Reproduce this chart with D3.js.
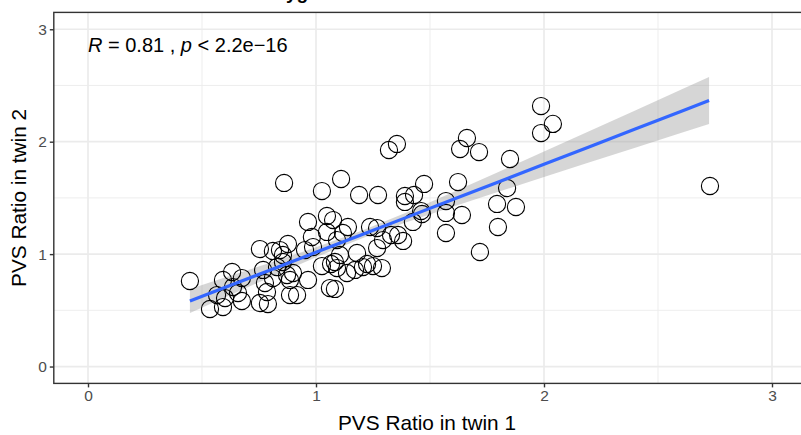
<!DOCTYPE html>
<html><head><meta charset="utf-8">
<script src="https://cdn.jsdelivr.net/npm/d3@7"></script>
<style>
html,body{margin:0;padding:0;background:#fff;overflow:hidden;}
text{font-family:"Liberation Sans",Arial,Helvetica,sans-serif;}
</style></head>
<body><svg id="c" width="801" height="435"></svg>
<script>
// ---- data ----
const twin1 = [0.447,0.535,0.592,0.601,0.566,0.592,0.632,0.658,0.675,0.675,0.636,0.754,0.789,0.768,0.776,0.785,0.811,0.829,0.855,0.886,0.899,0.917,0.886,0.965,1.026,1.061,0.754,0.811,0.842,0.877,0.855,0.952,0.987,0.860,0.965,0.982,1.048,1.026,1.110,1.189,1.272,1.075,1.140,1.048,1.118,1.237,1.268,1.294,1.329,1.360,1.382,1.105,1.180,1.268,1.083,1.092,1.136,1.171,1.224,1.250,1.289,1.083,1.092,1.206,1.066,1.320,1.355,1.390,1.430,1.390,1.474,1.461,1.465,1.425,1.570,1.570,1.640,1.570,1.719,1.623,1.662,1.632,1.715,1.851,1.838,1.794,1.877,1.798,1.987,1.987,2.039,2.728,0.873];
const twin2 = [0.761,0.512,0.529,0.609,0.636,0.770,0.841,0.654,0.583,0.787,0.707,0.565,0.556,0.859,0.743,0.663,0.787,0.885,0.930,0.770,0.832,0.636,0.636,0.770,0.894,0.698,1.045,1.028,1.036,1.090,0.992,1.036,1.063,1.633,1.286,1.152,1.339,1.561,1.668,1.526,1.526,1.303,1.241,1.197,1.188,1.241,1.232,1.125,1.170,1.170,1.117,0.992,1.010,1.054,0.930,0.876,0.832,0.859,0.912,0.894,0.876,0.690,1.125,0.885,0.912,1.926,1.980,1.517,1.526,1.464,1.624,1.383,1.357,1.286,1.472,1.366,1.348,1.188,1.019,1.641,2.033,1.935,1.908,1.846,1.588,1.446,1.419,1.241,2.317,2.077,2.158,1.606,0.814];
// fitted line and 95% band
const fitX     = [0.447,0.6,0.8,1.0,1.2,1.4,1.6,1.8,2.0,2.2,2.4,2.6,2.724];
const fitY     = [0.583,0.703,0.859,1.016,1.173,1.329,1.486,1.642,1.799,1.956,2.112,2.269,2.366];
const fitLower = [0.476,0.615,0.795,0.972,1.138,1.285,1.422,1.554,1.685,1.816,1.946,2.077,2.157];
const fitUpper = [0.690,0.791,0.923,1.060,1.208,1.373,1.550,1.730,1.913,2.096,2.278,2.461,2.575];
const xTicks = [0,1,2,3];
const yTicks = [0,1,2,3];
const xMinor = [0.5,1.5,2.5];
const yMinor = [0.5,1.5,2.5];
const titleText = "Monozygotic twins";
const xTitle = "PVS Ratio in twin 1";
const yTitle = "PVS Ratio in twin 2";
const annParts = [["R",true],[" = 0.81 , ",false],["p",true],[" < 2.2e\u221216",false]];

// ---- layout ----
const svg = d3.select("#c");
const P = {l:53.8, r:806.2, t:12.4, b:383.4};
const x = d3.scaleLinear().domain([-0.15,3.15]).range([P.l,P.r]);
const y = d3.scaleLinear().domain([-0.15,3.15]).range([P.b,P.t]);
const g = svg.append("g");

// grid
g.selectAll(".gxm").data(xMinor).join("line").attr("x1",d=>x(d)).attr("x2",d=>x(d)).attr("y1",P.t).attr("y2",P.b).attr("stroke","#EBEBEB").attr("stroke-width",0.9);
g.selectAll(".gym").data(yMinor).join("line").attr("y1",d=>y(d)).attr("y2",d=>y(d)).attr("x1",P.l).attr("x2",P.r).attr("stroke","#EBEBEB").attr("stroke-width",0.9);
g.selectAll(".gx").data(xTicks).join("line").attr("x1",d=>x(d)).attr("x2",d=>x(d)).attr("y1",P.t).attr("y2",P.b).attr("stroke","#EBEBEB").attr("stroke-width",1.7);
g.selectAll(".gy").data(yTicks).join("line").attr("y1",d=>y(d)).attr("y2",d=>y(d)).attr("x1",P.l).attr("x2",P.r).attr("stroke","#EBEBEB").attr("stroke-width",1.7);

// band
const idx = d3.range(fitX.length);
g.append("path").datum(idx)
  .attr("d", d3.area().x(i=>x(fitX[i])).y0(i=>y(fitLower[i])).y1(i=>y(fitUpper[i])))
  .attr("fill","#999999").attr("fill-opacity",0.4);

// points
g.selectAll(".pt").data(d3.range(twin1.length)).join("circle")
  .attr("cx",i=>x(twin1[i])).attr("cy",i=>y(twin2[i])).attr("r",8.6)
  .attr("fill","none").attr("stroke","#000").attr("stroke-width",1.1);

// line
g.append("path").datum(idx)
  .attr("d", d3.line().x(i=>x(fitX[i])).y(i=>y(fitY[i])))
  .attr("fill","none").attr("stroke","#3366FF").attr("stroke-width",3.2);

// panel border
g.append("rect").attr("x",P.l).attr("y",P.t).attr("width",P.r-P.l).attr("height",P.b-P.t)
  .attr("fill","none").attr("stroke","#333333").attr("stroke-width",1.4);

// axes
const xa = svg.append("g").attr("transform",`translate(0,${P.b})`)
  .call(d3.axisBottom(x).tickValues(xTicks).tickSize(4).tickPadding(3).tickFormat(d3.format("d")));
const ya = svg.append("g").attr("transform",`translate(${P.l},0)`)
  .call(d3.axisLeft(y).tickValues(yTicks).tickSize(4).tickPadding(3).tickFormat(d3.format("d")));
[xa,ya].forEach(a=>{
  a.select(".domain").remove();
  a.selectAll(".tick line").attr("stroke","#333333").attr("stroke-width",1.4);
  a.selectAll(".tick text").attr("fill","#4D4D4D").style("font-size","15.5px").style("font-family",'"Liberation Sans",Arial,sans-serif');
});

// titles
svg.append("text").attr("x",(P.l+P.r)/2 - 3).attr("y",430).attr("text-anchor","middle")
  .style("font-size","20.8px").attr("fill","#000").text(xTitle);
svg.append("text").attr("transform",`translate(26,${(P.t+P.b)/2}) rotate(-90)`).attr("text-anchor","middle")
  .style("font-size","20.8px").attr("fill","#000").text(yTitle);

// annotation
const ann = svg.append("text").attr("x",88).attr("y",52).style("font-size","20px").attr("fill","#000").attr("xml:space","preserve");
annParts.forEach(p=>{
  ann.append("tspan").style("font-style",p[1]?"italic":"normal").text(p[0]);
});

// cropped plot title (only descenders visible)
const tmp = svg.append("text").style("font-size","19px").style("font-weight","bold").text("Monoz");
const pre = tmp.node().getComputedTextLength(); tmp.remove();
svg.append("text").attr("x",286-pre).attr("y",-1).style("font-size","19px").style("font-weight","bold").attr("fill","#000").text(titleText);
</script></body></html>
